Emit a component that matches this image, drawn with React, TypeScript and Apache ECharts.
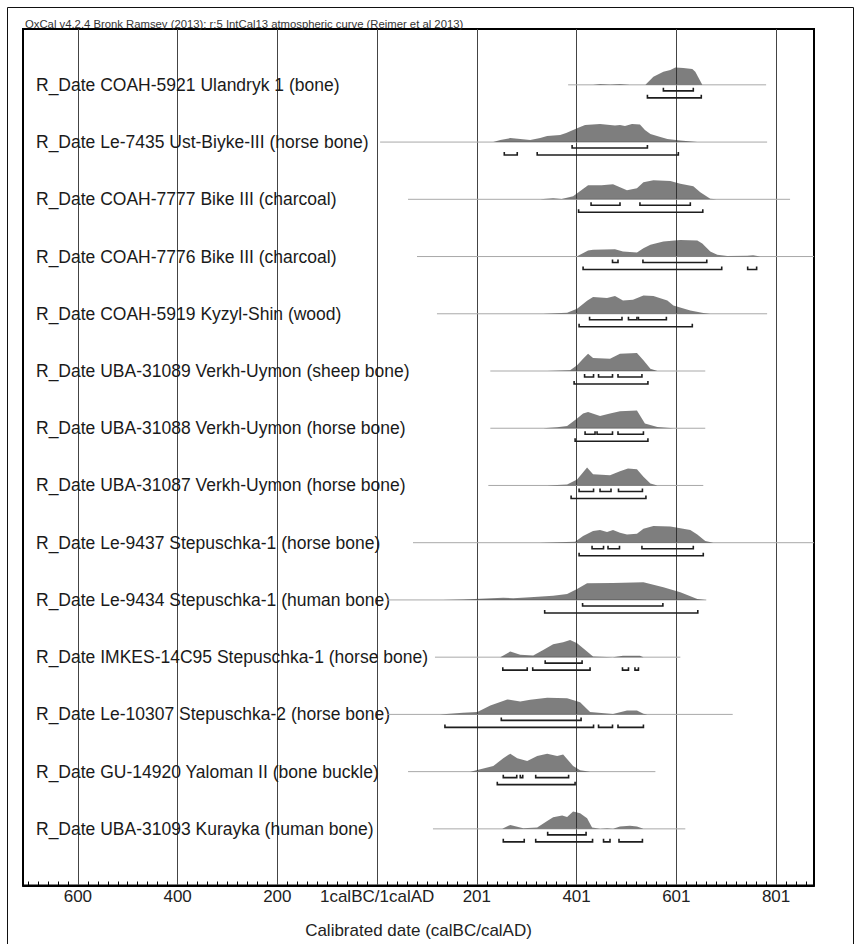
import React, { useEffect, useRef } from 'react';
import * as echarts from 'echarts';

// ---------- data ----------
const rowLabels = [
  'R_Date COAH-5921 Ulandryk 1 (bone)',
  'R_Date Le-7435 Ust-Biyke-III (horse bone)',
  'R_Date COAH-7777 Bike III (charcoal)',
  'R_Date COAH-7776 Bike III (charcoal)',
  'R_Date COAH-5919 Kyzyl-Shin (wood)',
  'R_Date UBA-31089 Verkh-Uymon (sheep bone)',
  'R_Date UBA-31088 Verkh-Uymon (horse bone)',
  'R_Date UBA-31087 Verkh-Uymon (horse bone)',
  'R_Date Le-9437 Stepuschka-1 (horse bone)',
  'R_Date Le-9434 Stepuschka-1 (human bone)',
  'R_Date IMKES-14C95 Stepuschka-1 (horse bone)',
  'R_Date Le-10307 Stepuschka-2 (horse bone)',
  'R_Date GU-14920 Yaloman II (bone buckle)',
  'R_Date UBA-31093 Kurayka (human bone)',
];

const xTickValues = [-600, -400, -200, 0, 200, 400, 600, 800];
const xTickLabels = ['600', '400', '200', '1calBC/1calAD', '201', '401', '601', '801'];
const minorTickValues = [
  -700, -680, -660, -640, -620, -580, -560, -540, -520, -500, -480, -460, -440, -420,
  -380, -360, -340, -320, -300, -280, -260, -240, -220, -180, -160, -140, -120, -100,
  -80, -60, -40, -20, 20, 40, 60, 80, 100, 120, 140, 160, 180, 220, 240, 260, 280, 300,
  320, 340, 360, 380, 420, 440, 460, 480, 500, 520, 540, 560, 580, 620, 640, 660, 680,
  700, 720, 740, 760, 780, 820, 840, 860,
];

// extent of each likelihood's thin base line (cal year, BC negative)
const baselineRanges = [
  [383, 780], [6, 782], [62, 828], [80, 876], [120, 782], [227, 658], [227, 658],
  [223, 654], [72, 876], [20, 660], [116, 608], [20, 713], [62, 558], [112, 618],
];

// probability distributions: [cal year, relative probability]
const densities = [
  [[433, 0], [447, 0.8], [467, 0.3], [487, 0.8], [507, 0], [538, 0], [554, 8], [574, 13], [588, 15], [598, 17.5], [614, 17], [632, 16], [638, 13], [652, 0]],
  [[233, 0], [247, 2], [267, 4], [287, 3], [307, 2], [327, 4], [341, 6], [367, 7], [379, 9], [393, 12], [407, 15], [417, 17], [447, 18], [467, 17], [477, 16.5], [487, 17], [497, 16], [511, 18], [527, 17.5], [537, 12], [548, 8], [568, 5], [582, 3], [608, 1.5], [642, 0]],
  [[327, 0], [353, 1], [370, 0.3], [393, 3], [423, 14], [450, 14], [473, 15], [501, 9], [521, 11], [534, 17], [554, 19], [588, 18.3], [608, 15.7], [634, 13], [648, 7], [668, 0.5], [680, 0]],
  [[400, 0], [423, 6], [433, 6.7], [477, 7.3], [493, 5], [521, 4], [534, 8.3], [548, 11.7], [574, 15], [608, 16.7], [642, 16], [652, 13], [668, 5], [682, 1.7], [702, 0.5], [742, 0.7], [754, 1.3], [768, 0]],
  [[333, 0], [381, 1], [401, 5], [421, 13], [433, 16.7], [461, 15.7], [477, 17.7], [493, 13.3], [513, 14], [534, 18.3], [554, 17.7], [582, 13.3], [594, 8.3], [628, 3.3], [654, 0.7], [668, 0]],
  [[341, 0], [387, 0.7], [401, 5.7], [413, 12.3], [423, 17.3], [433, 13], [467, 12.3], [487, 17.3], [521, 18], [534, 10.7], [548, 2.3], [562, 0]],
  [[333, 0], [361, 1], [381, 2.3], [401, 9.7], [413, 14.7], [423, 16.3], [447, 12.3], [467, 14.7], [487, 17], [521, 17.7], [537, 4.7], [562, 1.3], [594, 0]],
  [[341, 0], [381, 1], [401, 6], [411, 12], [421, 18], [433, 11.3], [467, 10.3], [487, 14.3], [503, 17], [521, 16.3], [534, 8.7], [548, 2], [562, 0]],
  [[327, 0], [397, 1], [413, 6.7], [433, 11.7], [447, 12.7], [461, 10.7], [473, 12.7], [487, 10], [501, 8.3], [521, 9], [534, 14], [554, 16.7], [588, 16.3], [628, 12.7], [642, 8.3], [658, 1.7], [674, 0]],
  [[132, 0], [172, 0.5], [253, 2.3], [273, 1.7], [307, 2.7], [353, 4.3], [381, 6], [401, 11], [421, 16.7], [473, 17], [534, 17.7], [574, 12.7], [608, 7.7], [642, 1], [658, 0]],
  [[247, 0], [267, 5.7], [287, 2.3], [313, 1.7], [333, 7.3], [353, 13], [373, 15], [387, 17.3], [401, 14], [421, 5.7], [433, 0.7], [473, 0], [493, 1.3], [527, 1.3], [534, 0]],
  [[126, 0], [172, 1.7], [201, 2.3], [227, 9], [261, 15], [287, 13], [307, 14.7], [341, 16.7], [381, 16.3], [407, 12.3], [427, 2.3], [461, 1], [473, 0.3], [501, 4], [521, 4], [534, 0.7], [542, 0]],
  [[187, 0], [233, 5.7], [253, 13.3], [267, 18], [281, 13.3], [301, 10.7], [321, 15.7], [341, 18], [361, 15.7], [373, 17.3], [393, 5.7], [407, 1.3], [427, 0]],
  [[251, 0], [267, 4], [293, 0.7], [321, 1.3], [341, 8], [353, 11.7], [371, 13.3], [381, 12], [393, 17.3], [407, 15.7], [421, 10.7], [431, 1.3], [447, 0], [461, 0.7], [473, 0], [487, 2.3], [507, 3], [521, 2.3], [534, 0]],
];

// 68.2% probability ranges
const ranges68 = [
  [[574, 634]],
  [[391, 542]],
  [[429, 487], [527, 628]],
  [[472, 483], [533, 661]],
  [[426, 491], [504, 521], [524, 580]],
  [[416, 434], [444, 472], [483, 531]],
  [[417, 437], [441, 472], [483, 534]],
  [[405, 434], [447, 469], [484, 532]],
  [[431, 454], [463, 486], [531, 634]],
  [[412, 573]],
  [[337, 411]],
  [[249, 409]],
  [[253, 280], [287, 292], [318, 384]],
  [[342, 419]],
];

// 95.4% probability ranges
const ranges95 = [
  [[542, 650]],
  [[255, 281], [321, 604]],
  [[404, 653]],
  [[413, 691], [743, 761]],
  [[405, 632]],
  [[395, 543]],
  [[397, 543]],
  [[389, 539]],
  [[405, 654]],
  [[336, 643]],
  [[252, 301], [312, 427], [492, 504], [517, 524]],
  [[136, 434], [444, 472], [483, 534]],
  [[241, 397]],
  [[253, 295], [318, 432], [454, 467], [485, 532]],
];

const titleText = 'OxCal v4.2.4 Bronk Ramsey (2013); r:5 IntCal13 atmospheric curve (Reimer et al 2013)';
const xAxisName = 'Calibrated date (calBC/calAD)';

// ---------- chart ----------
const FONT = '"Liberation Sans", Arial, sans-serif';
const ROW_PX = 57.4;
const DENS_TO_ROW = 1 / ROW_PX;

export default function App() {
  const ref = useRef<HTMLDivElement>(null);

  useEffect(() => {
    if (!ref.current) return;
    const chart = echarts.init(ref.current, null, { renderer: 'svg' });

    const bracket = (api: any, a: number, b: number, row: number, dy: number) => {
      const pa = api.coord([a, row]);
      const pb = api.coord([b, row]);
      const y = pa[1] + dy;
      return {
        type: 'polyline',
        shape: { points: [[pa[0], y - 3], [pa[0], y], [pb[0], y], [pb[0], y - 3]] },
        style: { stroke: '#1e1e1e', lineWidth: 1.6, fill: 'none' },
      };
    };

    const option: any = {
      animation: false,
      backgroundColor: '#fff',
      textStyle: { fontFamily: FONT },
      grid: {
        left: 23, top: 29, right: 46, bottom: 56,
        show: true, borderColor: '#000', borderWidth: 2, backgroundColor: 'transparent',
      },
      xAxis: [
        {
          type: 'value', min: -710, max: 876, position: 'bottom',
          name: xAxisName, nameLocation: 'middle', nameGap: 45,
          nameTextStyle: { fontSize: 17, color: '#222', fontFamily: FONT, verticalAlign: 'middle' },
          axisLine: { show: true, onZero: false, lineStyle: { color: '#000', width: 2 } },
          axisTick: { show: false, customValues: xTickValues },
          axisLabel: {
            customValues: xTickValues, margin: 2, fontSize: 17, color: '#222', fontFamily: FONT,
            formatter: (v: number) => xTickLabels[xTickValues.indexOf(v)] ?? '',
          },
          splitLine: { show: true, lineStyle: { color: '#444', width: 1 } },
        },
        {
          type: 'value', min: -710, max: 876, position: 'bottom',
          axisLine: { show: false, onZero: false },
          axisTick: { show: true, inside: true, length: 4, customValues: minorTickValues, lineStyle: { color: '#000', width: 1 } },
          axisLabel: { show: false },
          splitLine: { show: false },
        },
      ],
      yAxis: {
        type: 'value', inverse: true, min: (29 - 85) / ROW_PX, max: (888 - 85) / ROW_PX,
        axisLine: { show: false, onZero: false }, axisTick: { show: false }, splitLine: { show: false },
        axisLabel: {
          inside: true, margin: 13, fontSize: 17.5, color: '#1a1a1a', fontFamily: FONT,
          customValues: rowLabels.map((_, i) => i),
          formatter: (v: number) => rowLabels[v] ?? '',
        },
      },
      graphic: [
        {
          type: 'rect', shape: { x: 7.5, y: 7.5, width: 846, height: 960 },
          style: { fill: 'none', stroke: '#111', lineWidth: 1 }, silent: true, z: -10,
        },
        {
          type: 'text', left: 25, top: 18,
          style: { text: titleText, fontSize: 11.3, fill: '#333', fontFamily: FONT },
          silent: true,
        },
      ],
      series: [
        {
          type: 'custom',
          xAxisIndex: 0,
          coordinateSystem: 'cartesian2d',
          encode: { x: 0, y: 1 },
          data: baselineRanges.map((r, i) => [r[0], i]),
          renderItem: (_params: any, api: any) => {
            const row = api.value(1) as number;
            const [b0, b1] = baselineRanges[row];
            const p0 = api.coord([b0, row]);
            const p1 = api.coord([b1, row]);
            const children: any[] = [
              {
                type: 'line',
                shape: { x1: p0[0], y1: p0[1], x2: p1[0], y2: p1[1] },
                style: { stroke: '#a9a9a9', lineWidth: 1 },
              },
              {
                type: 'polygon',
                shape: { points: densities[row].map(([v, h]) => api.coord([v, row - h * DENS_TO_ROW])) },
                style: { fill: 'rgba(40,40,40,0.6)' },
              },
            ];
            ranges68[row].forEach(([a, b]) => children.push(bracket(api, a, b, row, 6)));
            ranges95[row].forEach(([a, b]) => children.push(bracket(api, a, b, row, 13)));
            return { type: 'group', children };
          },
        },
      ],
    };

    chart.setOption(option);
    return () => chart.dispose();
  }, []);

  return (
    <div
      ref={ref}
      style={{ position: 'absolute', left: 0, top: 0, width: 860, height: 944, background: '#fff' }}
    />
  );
}
